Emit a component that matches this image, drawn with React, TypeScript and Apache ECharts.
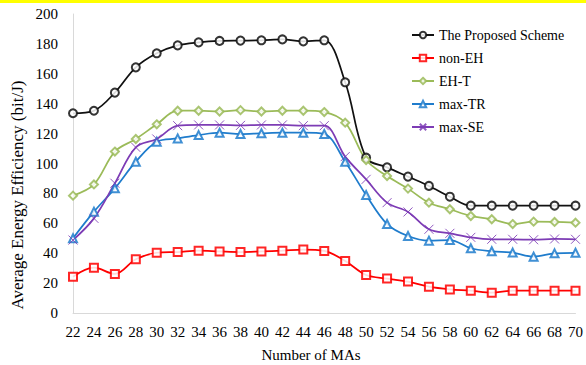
import React, { useEffect, useRef } from "react";
import * as echarts from "echarts";

const categories = ["22","24","26","28","30","32","34","36","38","40","42","44","46","48","50","52","54","56","58","60","62","64","66","68","70"];
const proposed = [133.6,135.3,147.4,164.3,173.7,179,181,182,182.2,182.4,183,181.7,182.4,154.3,103.9,97.4,91.2,85,77.8,71.8,71.8,71.8,71.8,71.8,71.8];
const nonEH = [24.3,30.3,26.1,35.9,40.3,40.8,41.7,41.2,40.8,41.2,41.7,42.4,41.5,34.8,25.4,23,21,17.6,15.8,14.9,13.6,14.9,14.9,14.9,14.9];
const ehT = [78.5,86,108,116.4,126.2,135.3,135.3,134.8,135.7,134.8,135.3,135.3,134.4,127.3,102.3,91.6,83.2,73.8,69.4,64.9,62.7,59.5,61.1,60.9,60.4];
const maxTR = [50,67.8,83.4,101.2,114.6,116.8,119,120.6,119.7,120.2,120.6,120.6,119.7,101.2,78.9,59.5,51.5,48.4,48.8,43.3,41.3,40.4,37.7,39.9,40.3];
const maxSE = [48.8,63.3,86.8,110.8,116.4,125.3,125.8,125.8,125.5,125.8,125.8,125.3,125.3,104.6,89.4,73.8,67.6,56,53.3,50.6,49.3,49.3,49,49.5,49.3];
const seriesNames = ["The Proposed Scheme","non-EH","EH-T","max-TR","max-SE"];

const FONT = "Liberation Serif";

export default function App() {
  const ref = useRef<HTMLDivElement>(null);
  useEffect(() => {
    if (!ref.current) return;
    const chart = echarts.init(ref.current, undefined, { renderer: "svg" });
    const mk = (name: string, data: number[], color: string, symbol: string, size: number) => ({
      name,
      type: "line",
      data,
      smooth: 0.35,
      symbol,
      symbolSize: size,
      lineStyle: { color, width: 1.75 },
      itemStyle: { color, borderColor: color, borderWidth: 1, opacity: 0.85 },
      emphasis: { disabled: true },
    });
    chart.setOption({
      animation: false,
      backgroundColor: "#fff",
      grid: { left: 73, right: 9, top: 14, bottom: 52 },
      legend: {
        orient: "vertical",
        left: 411,
        top: 28,
        padding: 0,
        itemWidth: 22,
        itemHeight: 8,
        itemGap: 9,
        textStyle: { fontFamily: FONT, fontSize: 14, color: "#000" },
        data: seriesNames,
      },
      xAxis: {
        type: "category",
        data: categories,
        boundaryGap: false,
        axisLine: { show: true, lineStyle: { color: "#d9d9d9", width: 1 } },
        axisTick: { show: false },
        axisLabel: { fontFamily: FONT, fontSize: 15, color: "#000", margin: 11, interval: 0 },
        splitLine: { show: false },
      },
      yAxis: {
        type: "value",
        min: 0,
        max: 200,
        interval: 20,
        axisLine: { show: true, lineStyle: { color: "#d9d9d9", width: 1 } },
        axisTick: { show: false },
        axisLabel: { fontFamily: FONT, fontSize: 15, color: "#000", margin: 15 },
        splitLine: { show: false },
      },
      graphic: [
        { type: "rect", left: 0, top: 0, shape: { width: 586, height: 3 }, style: { fill: "#ffff00" } },
        {
          type: "text",
          x: 17,
          y: 195,
          rotation: Math.PI / 2,
          style: { text: "Average Energy Efficiency (bit/J)", fontFamily: FONT, fontSize: 17, fill: "#000", textAlign: "center", textVerticalAlign: "middle" },
        },
        {
          type: "text",
          x: 311,
          y: 355,
          style: { text: "Number of MAs", fontFamily: FONT, fontSize: 15, fill: "#000", textAlign: "center", textVerticalAlign: "middle" },
        },
      ],
      series: [
        mk(seriesNames[0], proposed, "#111111", "emptyCircle", 8),
        mk(seriesNames[1], nonEH, "#ff0000", "emptyRect", 8),
        mk(seriesNames[2], ehT, "#9bbb59", "emptyDiamond", 8),
        mk(seriesNames[3], maxTR, "#1f7ccc", "emptyTriangle", 8),
        mk(seriesNames[4], maxSE, "#7d3cb5", "path://M0,0L10,10M10,0L0,10", 9),
      ],
    });
    return () => chart.dispose();
  }, []);
  return <div ref={ref} style={{ width: 586, height: 365, position: "absolute", left: 0, top: 0 }} />;
}
